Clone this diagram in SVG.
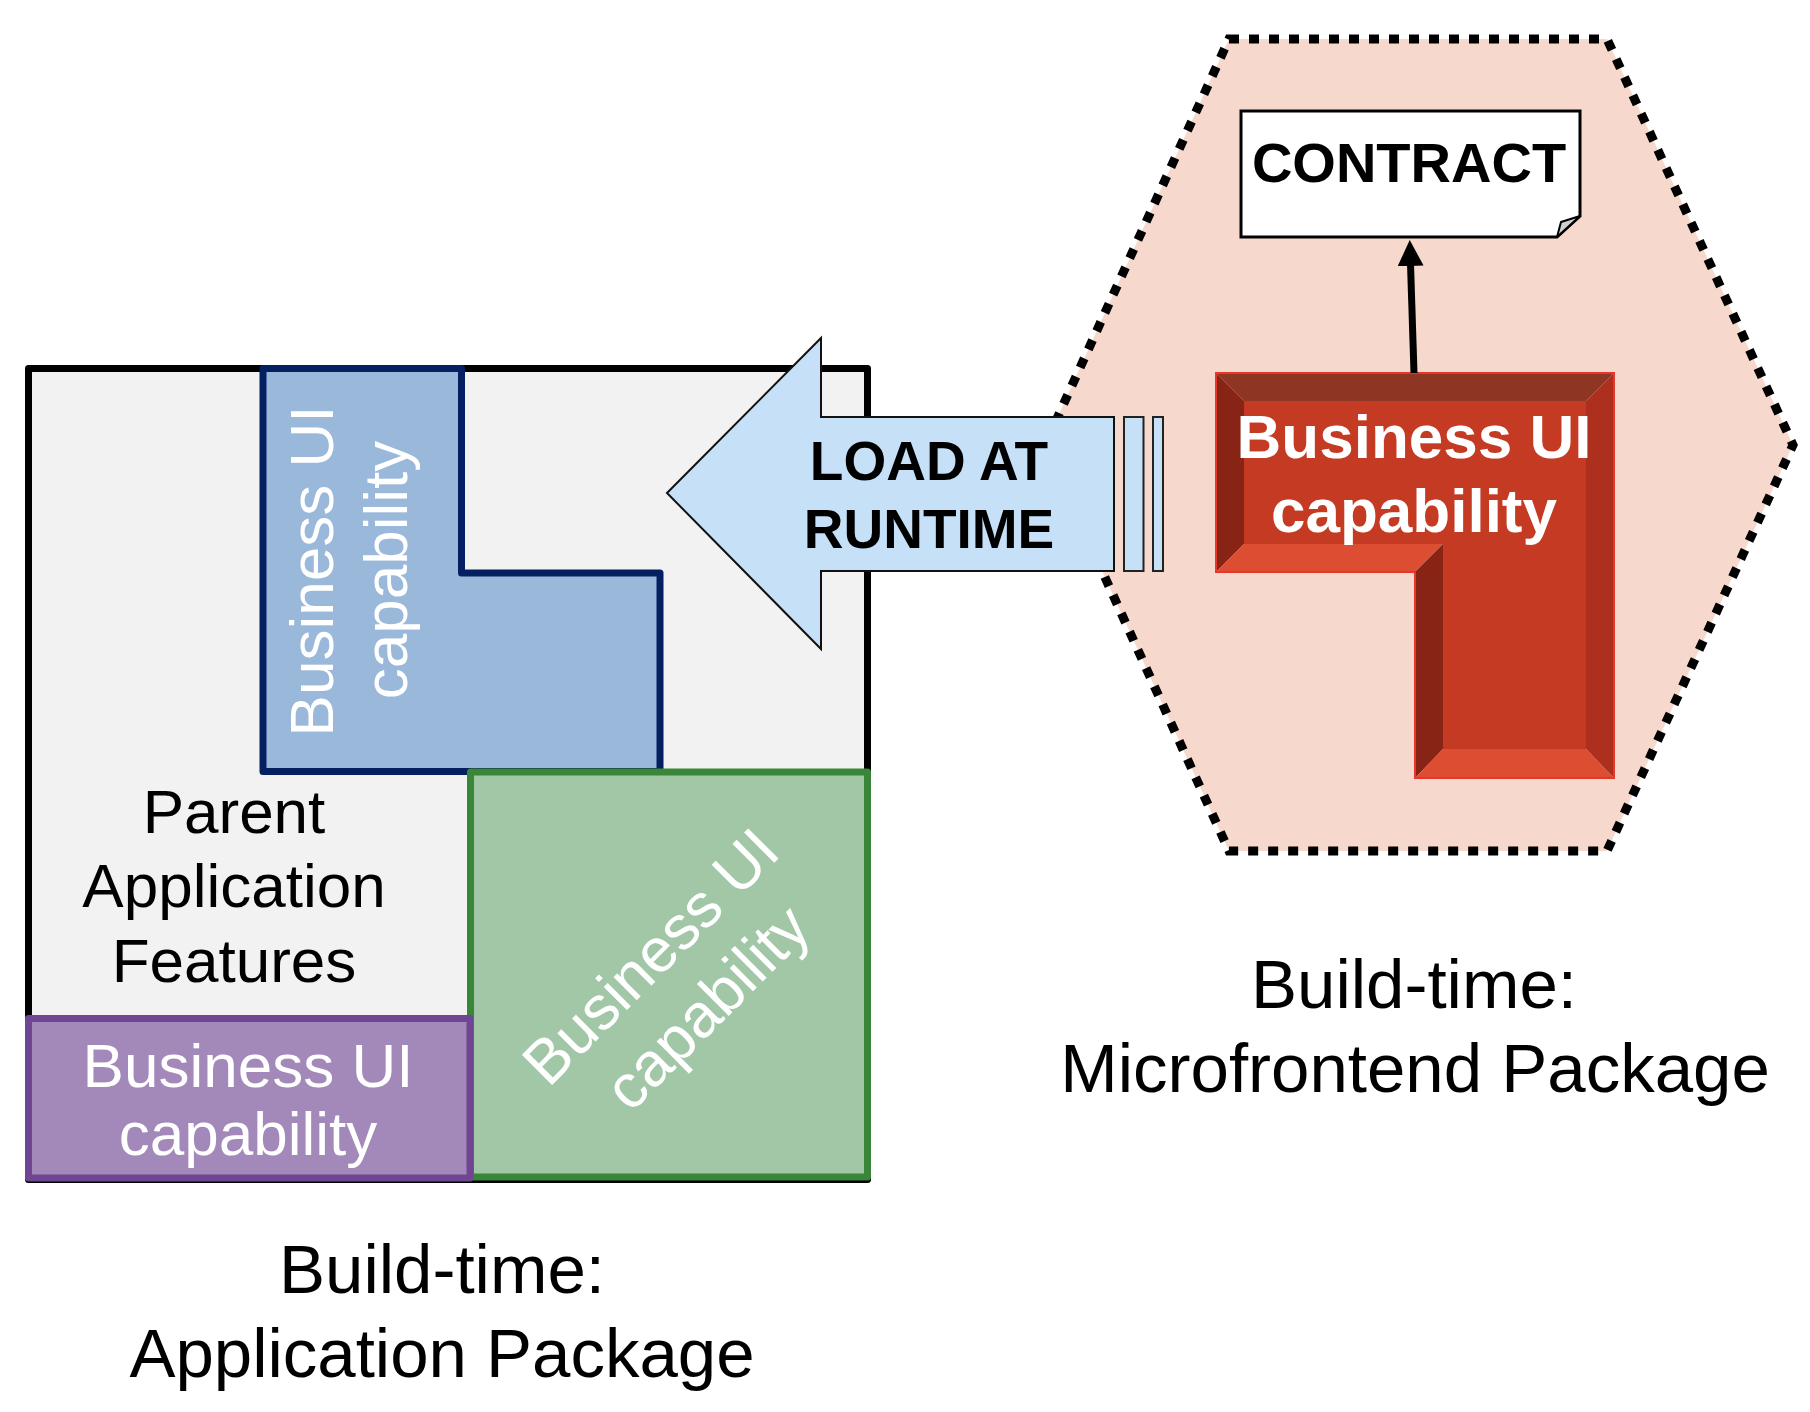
<svg xmlns="http://www.w3.org/2000/svg" width="1810" height="1412" viewBox="0 0 1810 1412">
<style>
text{font-family:"Liberation Sans",Arial,sans-serif;}
.lbl{font-size:62px;text-anchor:middle;}
.wh{fill:#ffffff;}
.bk{fill:#000000;}
.bold{font-weight:bold;}
.cap{font-size:69px;text-anchor:middle;fill:#000;}
</style>
<defs>
<marker id="ah" viewBox="0 0 26 26" refX="2" refY="13" markerWidth="26" markerHeight="26" markerUnits="userSpaceOnUse" orient="auto">
<path d="M0,0 L26,13 L0,26 Z" fill="#000"/>
</marker>
</defs>
<rect width="1810" height="1412" fill="#ffffff"/>

<g id="app-package">
<rect x="28.5" y="368.5" width="839" height="811" fill="#f2f2f2" stroke="#000" stroke-width="7" stroke-linejoin="round"/>
</g>

<g id="blue-capability">
<path d="M263,368.5 H461.5 V573 H660 V771.5 H263 Z" fill="#99b8da" stroke="#052060" stroke-width="7" stroke-linejoin="round"/>
<text class="lbl wh" transform="translate(333,571) rotate(-90)">Business UI</text>
<text class="lbl wh" transform="translate(407,570) rotate(-90)">capability</text>
</g>

<g id="parent-features">
<text class="lbl bk" x="234" y="833">Parent</text>
<text class="lbl bk" x="234" y="907">Application</text>
<text class="lbl bk" x="234" y="982">Features</text>
</g>

<g id="green-capability">
<rect x="470.5" y="772" width="397" height="405" fill="#a1c7a7" stroke="#3a8639" stroke-width="7" stroke-linejoin="round"/>
<g transform="translate(669,975) rotate(-45)">
<text class="lbl wh" x="0" y="-5">Business UI</text>
<text class="lbl wh" x="4" y="71">capability</text>
</g>
</g>

<g id="purple-capability">
<rect x="28.5" y="1018.5" width="441.5" height="159.5" fill="#a389b9" stroke="#6f4694" stroke-width="7" stroke-linejoin="round"/>
<text class="lbl wh" x="248" y="1087">Business UI</text>
<text class="lbl wh" x="248" y="1155">capability</text>
</g>

<g id="label-app">
<text class="cap" x="442" y="1293">Build-time:</text>
<text class="cap" x="442" y="1377">Application Package</text>
</g>

<g id="microfrontend-package">
<polygon points="1229,39 1607,39 1793,445 1607,851 1229,851 1045,445" fill="#f6d8cd" stroke="#000" stroke-width="9" stroke-dasharray="10 10"/>
</g>

<g id="load-arrow">
<polygon points="667,493 821,338 821,417 1114,417 1114,571 821,571 821,649" fill="#c5e0f7" stroke="#111" stroke-width="2"/>
<rect x="1124" y="417" width="19.5" height="154" fill="#c5e0f7" stroke="#222" stroke-width="2"/>
<rect x="1153" y="417" width="10" height="154" fill="#c5e0f7" stroke="#222" stroke-width="2"/>
<text class="bold bk" x="929" y="480" font-size="55" text-anchor="middle">LOAD AT</text>
<text class="bold bk" x="929" y="548" font-size="55" text-anchor="middle">RUNTIME</text>
</g>

<g id="contract">
<path d="M1241,111 H1580 V216 L1557,237 H1241 Z" fill="#ffffff" stroke="#000" stroke-width="3" stroke-linejoin="miter"/>
<path d="M1580,216 L1561,222 L1557,237 Z" fill="#d0d0d0" stroke="#000" stroke-width="2" stroke-linejoin="round"/>
<text class="bold bk" x="1409" y="182" font-size="56" text-anchor="middle">CONTRACT</text>
</g>

<g id="red-capability">
<polygon points="1216,373 1614,373 1586,401 1244,401" fill="#8f3524"/>
<polygon points="1216,373 1244,401 1244,544 1216,572" fill="#882415"/>
<polygon points="1614,373 1614,778 1586,749 1586,401" fill="#ad2f1d"/>
<polygon points="1216,572 1244,544 1443,544 1415,572" fill="#dc4d31"/>
<polygon points="1415,572 1443,544 1443,749 1415,778" fill="#882415"/>
<polygon points="1415,778 1443,749 1586,749 1614,778" fill="#dc4d31"/>
<polygon points="1244,401 1586,401 1586,749 1443,749 1443,544 1244,544" fill="#c43a22"/>
<polygon points="1216,373 1614,373 1614,778 1415,778 1415,572 1216,572" fill="none" stroke="#e8372a" stroke-width="2"/>
<text class="lbl wh bold" x="1414" y="458">Business UI</text>
<text class="lbl wh bold" x="1414" y="532">capability</text>
</g>

<g id="label-mfe">
<text class="cap" x="1414" y="1008">Build-time:</text>
<text class="cap" x="1415" y="1092">Microfrontend Package</text>
</g>

<g id="connectors">
<line x1="1414" y1="373" x2="1410.5" y2="264" stroke="#000" stroke-width="7" marker-end="url(#ah)"/>
</g>
</svg>
